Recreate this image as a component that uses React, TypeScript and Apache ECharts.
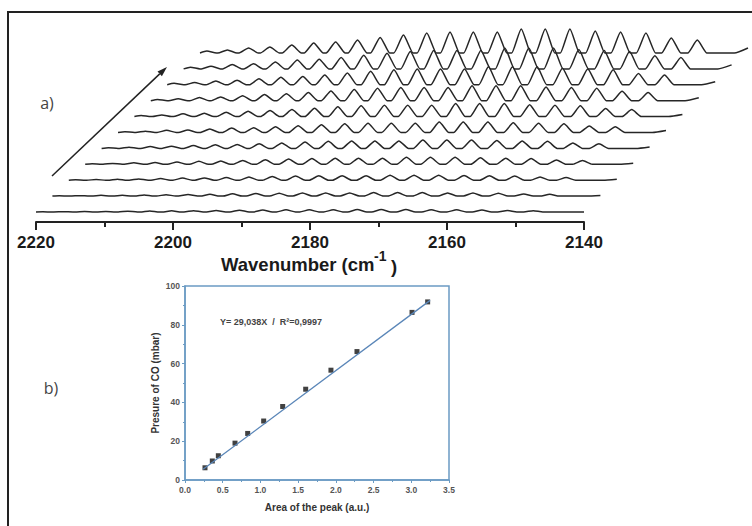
import React, { useEffect, useRef } from "react";
import * as echarts from "echarts";

// ---- Panel a): IR spectra of CO (R-branch lines) ----
const peakWavenumbers = [
  2147.4, 2151.2, 2154.9, 2158.6, 2162.3, 2166.0, 2169.6, 2173.1, 2176.6, 2180.1, 2183.5,
  2186.9, 2190.3, 2193.7, 2197.0, 2200.2, 2203.4, 2206.6, 2209.8, 2212.9, 2216.0, 2219.0,
];
// relative line intensity (J = 0 .. 21)
const relativeEnvelope = [
  0.54, 0.63, 0.83, 0.88, 0.92, 1.0, 1.0, 1.0, 0.88, 0.88, 0.88,
  0.83, 0.75, 0.65, 0.54, 0.46, 0.42, 0.33, 0.25, 0.21, 0.13, 0.08,
];
// maximum line intensity of each spectrum (bottom -> top), arb. units
const traceMax = [2.5, 3.5, 5, 7, 8.5, 10.5, 13, 15, 18, 21, 24];
// small rise at the low-wavenumber end of each spectrum
const endRise = [0, 0.5, 1, 1, 1.5, 2, 2, 3, 3, 4, 5];
const lineHalfWidth = 1.4;

// ---- Panel b): calibration ----
const peakArea = [0.265, 0.362, 0.442, 0.663, 0.831, 1.043, 1.295, 1.6, 1.935, 2.28, 3.01, 3.217];
const pressureCO = [6.3, 9.8, 12.5, 19.0, 24.0, 30.4, 37.9, 46.8, 56.6, 66.2, 86.4, 91.8];
const fitLineX = [0.24, 3.25];
const fitLineY = [5.5, 92.6];
const fitLabel = "Y= 29,038X  /  R\u00b2=0,9997";

function traceData(i: number): number[][] {
  const pts: number[][] = [];
  for (let j = peakWavenumbers.length - 1; j >= 0; j--) {
    const v = peakWavenumbers[j];
    const h = relativeEnvelope[j] * traceMax[i];
    pts.push([Math.min(2220, v + lineHalfWidth), 0], [v, h], [v - lineHalfWidth, 0]);
  }
  pts.push([2142, 0], [2140, endRise[i]]);
  return pts;
}

export default function App() {
  const ref = useRef<HTMLDivElement>(null);
  useEffect(() => {
    document.body.style.margin = "0";
    const chart = echarts.init(ref.current!, null, { renderer: "svg" });
    const n = traceMax.length;
    const stepX = 16.4;
    const stepY = 15.9;
    const grids: any[] = [];
    const xAxes: any[] = [];
    const yAxes: any[] = [];
    const series: any[] = [];
    for (let i = 0; i < n; i++) {
      const base = 212 - stepY * i;
      grids.push({ left: 36 + stepX * i, width: 548, top: base - 40, height: 50 });
      xAxes.push({
        gridIndex: i,
        type: "value",
        min: 2140,
        max: 2220,
        interval: 20,
        inverse: true,
        show: i === 0,
        axisLine: { show: true, onZero: false, lineStyle: { color: "#222", width: 2 } },
        axisTick: { show: true, inside: false, length: 8, lineStyle: { color: "#222", width: 2 } },
        minorTick: { show: true, splitNumber: 2, length: 5, lineStyle: { color: "#222", width: 2 } },
        splitLine: { show: false },
        minorSplitLine: { show: false },
        axisLabel: {
          show: true,
          margin: 12,
          fontSize: 17,
          fontWeight: "bold",
          color: "#1a1a1a",
          fontFamily: "Liberation Sans",
          formatter: (v: number) => String(v),
        },
      });
      yAxes.push({ gridIndex: i, type: "value", min: -10, max: 40, show: false });
      series.push({
        type: "line",
        xAxisIndex: i,
        yAxisIndex: i,
        data: traceData(i),
        showSymbol: false,
        smooth: 0.2,
        smoothMonotone: "x",
        lineStyle: { color: "#262626", width: 1.5 },
        silent: true,
      });
    }
    // inset calibration plot
    const axisBlue = "#6b9bc3";
    grids.push({ left: 185, top: 286, width: 264, height: 194, show: true, borderColor: axisBlue, borderWidth: 1.5, backgroundColor: "transparent" });
    const insetLabel = { fontSize: 8.5, fontWeight: "bold", color: "#555", fontFamily: "Liberation Sans" };
    xAxes.push({
      gridIndex: n,
      type: "value",
      min: 0,
      max: 3.5,
      interval: 0.5,
      name: "Area of the peak (a.u.)",
      nameLocation: "middle",
      nameGap: 22,
      nameTextStyle: { fontSize: 10, fontWeight: "bold", color: "#333", fontFamily: "Liberation Sans" },
      axisLine: { lineStyle: { color: axisBlue, width: 1.5 } },
      axisTick: { length: 3, lineStyle: { color: axisBlue } },
      minorTick: { show: true, splitNumber: 2, length: 2, lineStyle: { color: axisBlue } },
      splitLine: { show: false },
      axisLabel: { ...insetLabel, margin: 5, formatter: (v: number) => v.toFixed(1) },
    });
    yAxes.push({
      gridIndex: n,
      type: "value",
      min: 0,
      max: 100,
      interval: 20,
      name: "Presure of CO (mbar)",
      nameLocation: "middle",
      nameGap: 25,
      nameTextStyle: { fontSize: 10, fontWeight: "bold", color: "#333", fontFamily: "Liberation Sans" },
      axisLine: { show: true, lineStyle: { color: axisBlue, width: 1.5 } },
      axisTick: { show: true, length: 3, lineStyle: { color: axisBlue } },
      minorTick: { show: true, splitNumber: 2, length: 2, lineStyle: { color: axisBlue } },
      splitLine: { show: false },
      axisLabel: { ...insetLabel, margin: 5 },
    });
    series.push({
      type: "line",
      xAxisIndex: n,
      yAxisIndex: n,
      data: fitLineX.map((x, k) => [x, fitLineY[k]]),
      showSymbol: false,
      lineStyle: { color: "#5a86b8", width: 1.3 },
      silent: true,
    });
    series.push({
      type: "scatter",
      xAxisIndex: n,
      yAxisIndex: n,
      data: peakArea.map((x, k) => [x, pressureCO[k]]),
      symbol: "rect",
      symbolSize: 5,
      itemStyle: { color: "#111" },
      silent: true,
    });

    const tip = [167, 67];
    const dir = [0.729, -0.684];
    const perp = [0.684, 0.729];
    const back = [tip[0] - 10 * dir[0], tip[1] - 10 * dir[1]];

    chart.setOption({
      animation: false,
      backgroundColor: "#fff",
      grid: grids,
      xAxis: xAxes,
      yAxis: yAxes,
      series,
      graphic: [
        { type: "rect", shape: { x: 8, y: 12, width: 800, height: 600 }, style: { fill: "none", stroke: "#222", lineWidth: 2 }, silent: true },
        { type: "text", x: 47, y: 103, style: { text: "a)", fontSize: 16, fill: "#444", fontFamily: "Open Sans", align: "center", verticalAlign: "middle" } },
        { type: "text", x: 51, y: 388, style: { text: "b)", fontSize: 16, fill: "#444", fontFamily: "Open Sans", align: "center", verticalAlign: "middle" } },
        { type: "line", shape: { x1: 52, y1: 176, x2: back[0], y2: back[1] }, style: { stroke: "#222", lineWidth: 1.5 } },
        {
          type: "polygon",
          shape: { points: [tip, [back[0] + 3.2 * perp[0], back[1] + 3.2 * perp[1]], [back[0] - 3.2 * perp[0], back[1] - 3.2 * perp[1]]] },
          style: { fill: "#222" },
        },
        { type: "text", x: 221, y: 274, style: { text: "Wavenumber (cm", fontSize: 18.5, fontWeight: "bold", fill: "#1a1a1a", fontFamily: "Liberation Sans", align: "left", verticalAlign: "bottom" } },
        { type: "text", x: 374, y: 263, style: { text: "-1", fontSize: 14, fontWeight: "bold", fill: "#1a1a1a", fontFamily: "Liberation Sans", align: "left", verticalAlign: "bottom" } },
        { type: "text", x: 391, y: 276, style: { text: ")", fontSize: 18.5, fontWeight: "bold", fill: "#1a1a1a", fontFamily: "Liberation Sans", align: "left", verticalAlign: "bottom" } },
        { type: "text", x: 220, y: 322, style: { text: fitLabel, fontSize: 9, fontWeight: "bold", fill: "#444", fontFamily: "Liberation Sans", align: "left", verticalAlign: "middle" } },
      ],
    });
    return () => chart.dispose();
  }, []);
  return <div ref={ref} style={{ width: 752, height: 526 }} />;
}
